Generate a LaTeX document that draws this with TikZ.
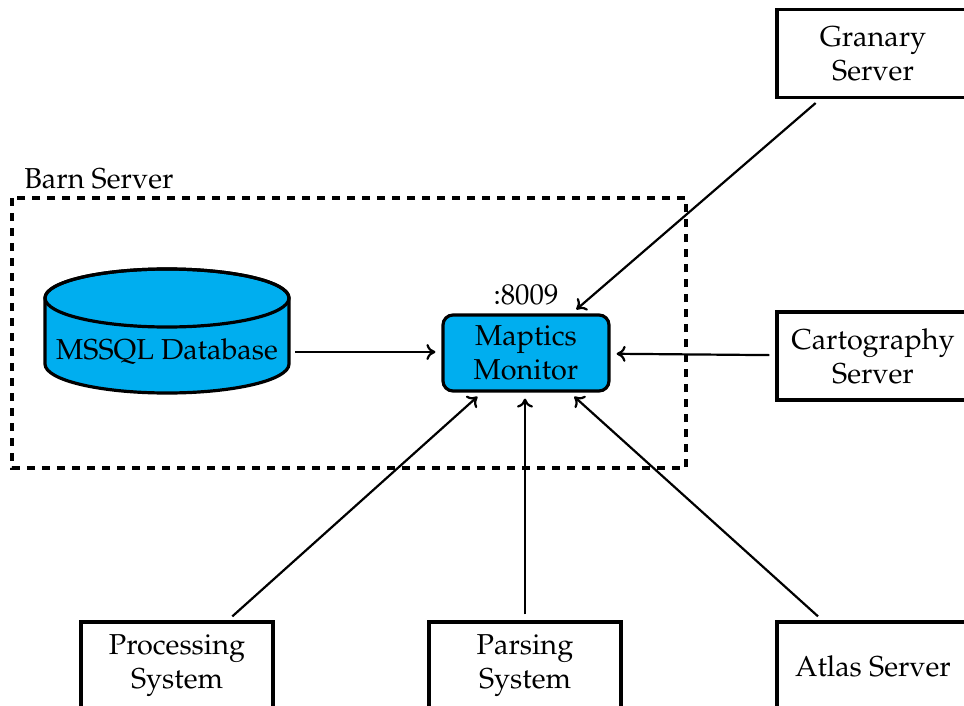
\documentclass[tikz,border=0pt]{standalone}
\usepackage[T1]{fontenc}
\usepackage{mathpazo}
\usetikzlibrary{arrows.meta}
\definecolor{dbcyan}{RGB}{0,174,239}
\tikzset{
  txt/.style={font=\fontsize{14.4}{17}\selectfont},
  sysbox/.style={txt, draw, line width=1.6pt, minimum width=96pt, minimum height=44pt, align=center, inner sep=2pt},
  monbox/.style={txt, draw, line width=1.6pt, fill=dbcyan, rounded corners=5pt, minimum width=83pt, minimum height=38pt, align=center, inner sep=2pt},
  flow/.style={-{To[length=4.5pt,width=8pt]}, line width=1.1pt, shorten >=3pt, shorten <=3pt},
  zone/.style={line width=1.6pt, dash pattern=on 4.2pt off 3.3pt}
}
\begin{document}
\begin{tikzpicture}[x=0.5pt, y=-0.5pt]
  \useasboundingbox (0,0) rectangle (964,706);
  \clip (0,0) rectangle (964,706);

  % Barn Server zone
  \draw[zone] (12,198) rectangle (686,468);
  \node[txt, anchor=west, inner sep=0pt] (barn) at (24,179) {Barn Server};

  % database cylinder
  \filldraw[fill=dbcyan, line width=1.6pt]
    (45,298) -- (45,364)
    arc[start angle=180, end angle=0, x radius=122, y radius=29]
    -- (289,298)
    arc[start angle=0, end angle=-180, x radius=122, y radius=29] -- cycle;
  \draw[line width=1.6pt] (167,298) ellipse [x radius=122, y radius=29];
  \node[txt, minimum width=122pt, inner sep=0pt] (db) at (167,352) {MSSQL Database};

  % monitor
  \node[monbox] (mm) at (526,353) {Maptics\\Monitor};
  \node[txt, inner sep=0pt] (port) at (526,295) {:8009};

  % surrounding systems
  \node[sysbox] (granary) at (873,53.5) {Granary\\Server};
  \node[sysbox] (carto) at (873,356) {Cartography\\Server};
  \node[sysbox] (proc) at (177,666) {Processing\\System};
  \node[sysbox] (pars) at (525,666) {Parsing\\System};
  \node[sysbox] (atlas) at (873,666) {Atlas Server};

  % data flows into the monitor
  \draw[flow] (db.east) -- (mm.west |- db.east);
  \draw[flow] (granary) -- (mm);
  \draw[flow] (carto) -- (mm);
  \draw[flow] (proc) -- (mm);
  \draw[flow] (pars) -- (pars |- mm.south);
  \draw[flow] (atlas) -- (mm);
\end{tikzpicture}
\end{document}
